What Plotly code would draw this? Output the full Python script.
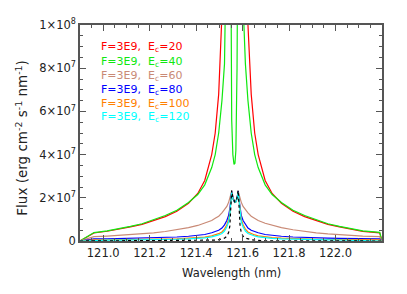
import plotly.graph_objects as go

# wavelength grid (nm)
wavelength_nm = [120.900, 120.960, 121.017, 121.067, 121.117, 121.167, 121.217, 121.267,
                 121.317, 121.367, 121.407, 121.437, 121.467, 121.482, 121.497, 121.511,
                 121.522, 121.532, 121.540, 121.545, 121.549, 121.553, 121.558, 121.563,
                 121.567,
                 121.571, 121.576, 121.581, 121.585, 121.589, 121.594, 121.602, 121.612,
                 121.623, 121.637, 121.652, 121.667, 121.697, 121.727, 121.767, 121.817,
                 121.867, 121.917, 121.967, 122.017, 122.067, 122.117, 122.190, 122.200]

# fluxes in units of 1e6 erg cm^-2 s^-1 nm^-1
flux_ec20 = [0, 3.7, 4.5, 5.4, 6.5, 7.7, 9.4, 11.3, 13.8, 17.5, 22, 28, 40, 50, 68, 100,
             140, 200, 260, 290, 300, 300, 300, 300,
             300,
             300, 300, 300, 300, 290, 260, 200, 140,
             100, 68, 50, 40, 28, 22, 17.5, 13.8, 11.3, 9.4, 7.7, 6.5, 5.4, 4.5, 3.8, 0]
flux_ec40 = [0, 3.9, 4.7, 5.6, 6.8, 8.0, 9.8, 11.8, 14.2, 17.8, 21.5, 26, 34, 40, 50, 65,
             82, 110, 170, 250, 140, 56, 40, 35.5,
             36,
             42, 80, 250, 250, 230, 160, 110, 82,
             65, 50, 40, 34, 26, 21.5, 17.8, 14.2, 11.8, 9.8, 8.0, 6.8, 5.6, 4.7, 4.0, 0]
flux_ec60 = [0, 2.0, 2.3, 2.6, 2.9, 3.3, 3.8, 4.4, 5.2, 6.2, 7.2, 8.2, 9.5, 10.5, 11.5, 13,
             14.5, 16, 18, 19.5, 21.5, 23.2, 20, 18.5,
             18.3,
             18.5, 20, 23.2, 21.5, 19.5, 18, 16, 14.5,
             13, 11.5, 10.5, 9.5, 8.2, 7.2, 6.2, 5.2, 4.4, 3.8, 3.3, 2.9, 2.6, 2.3, 2.0, 0]
flux_ec80 = [0, 0.95, 1.0, 1.1, 1.2, 1.3, 1.45, 1.6, 1.85, 2.2, 2.6, 3.0, 3.8, 4.3, 5.0, 6.0,
             7.5, 9.5, 12, 15, 19, 23, 20, 18.2,
             18,
             18.2, 20, 23, 19, 15, 12, 9.5, 7.5,
             6.0, 5.0, 4.3, 3.8, 3.0, 2.6, 2.2, 1.85, 1.6, 1.45, 1.3, 1.2, 1.1, 1.0, 0.95, 0]
flux_ec100 = [0, 0.5, 0.55, 0.6, 0.65, 0.7, 0.8, 0.9, 1.05, 1.3, 1.55, 1.8, 2.4, 2.8, 3.4, 4.2,
              5.5, 7.5, 10, 13, 17.5, 22.5, 19.5, 18,
              17.8,
              18, 19.5, 22.5, 17.5, 13, 10, 7.5, 5.5,
              4.2, 3.4, 2.8, 2.4, 1.8, 1.55, 1.3, 1.05, 0.9, 0.8, 0.7, 0.65, 0.6, 0.55, 0.5, 0]
flux_ec120 = [0, 0.35, 0.4, 0.42, 0.46, 0.5, 0.56, 0.65, 0.8, 1.0, 1.2, 1.45, 1.9, 2.3, 2.8, 3.5,
              4.6, 6.5, 9, 12, 17, 22.5, 19.5, 18,
              17.8,
              18, 19.5, 22.5, 17, 12, 9, 6.5, 4.6,
              3.5, 2.8, 2.3, 1.9, 1.45, 1.2, 1.0, 0.8, 0.65, 0.56, 0.5, 0.46, 0.42, 0.4, 0.35, 0]
flux_ref = [0, 0.02, 0.02, 0.02, 0.02, 0.03, 0.03, 0.04, 0.04, 0.05, 0.08, 0.12, 0.25, 0.4, 0.6, 0.9,
            1.3, 2.2, 4, 7, 13, 23.5, 20, 18.3,
            18,
            18.3, 20, 23.5, 13, 7, 4, 2.2, 1.3,
            0.9, 0.6, 0.4, 0.25, 0.12, 0.08, 0.05, 0.04, 0.04, 0.03, 0.03, 0.02, 0.02, 0.02, 0.02, 0]

series_labels = ["F=3E9,&nbsp;&nbsp;E<sub>c</sub>=20", "F=3E9,&nbsp;&nbsp;E<sub>c</sub>=40",
                 "F=3E9,&nbsp;&nbsp;E<sub>c</sub>=60", "F=3E9,&nbsp;&nbsp;E<sub>c</sub>=80",
                 "F=3E9,&nbsp;&nbsp;E<sub>c</sub>=100", "F=3E9,&nbsp;&nbsp;E<sub>c</sub>=120"]
series_colors = ["#ff0000", "#10e810", "#c98a76", "#0000ff", "#ff8000", "#00ffff"]

ytick_vals = [0, 2e7, 4e7, 6e7, 8e7, 1e8]
ytick_text = ["0", "2×10<sup>7</sup>", "4×10<sup>7</sup>", "6×10<sup>7</sup>",
              "8×10<sup>7</sup>", "1×10<sup>8</sup>"]
xtick_vals = [121.0, 121.2, 121.4, 121.6, 121.8, 122.0]
xtick_text = ["121.0", "121.2", "121.4", "121.6", "121.8", "122.0"]

FONT = "DejaVu Sans, Verdana, sans-serif"
INK = "#222222"
AXC = "#555555"

# page has an 8px body margin; size the figure so it fits the 407x294 window
OFF = 8
W, H = 407 - 2 * OFF, 294 - 2 * OFF
left_px, right_px, top_px, bottom_px = 79.5, 382.5, 25, 241  # page pixels of plot frame
ml = left_px - OFF
mr = W - (right_px - OFF)
mt = top_px - OFF
mb = H - (bottom_px - OFF)
pw, ph = W - ml - mr, H - mt - mb


def px_to_paper(x, y):
    return (x - left_px) / pw, 1 - (y - top_px) / ph


fig = go.Figure()
all_flux = [flux_ec20, flux_ec40, flux_ec60, flux_ec80, flux_ec100, flux_ec120]
for flux, color, label in zip(all_flux, series_colors, series_labels):
    fig.add_trace(go.Scatter(x=wavelength_nm, y=[v * 1e6 for v in flux], mode="lines",
                             line=dict(color=color, width=1.2), name=label, showlegend=False))
fig.add_trace(go.Scatter(x=wavelength_nm, y=[v * 1e6 for v in flux_ref], mode="lines",
                         line=dict(color="black", width=1.2, dash="dot"), showlegend=False))

for i, (label, color) in enumerate(zip(series_labels, series_colors)):
    ax, ay = px_to_paper(99, 47.5 + i * 14)
    fig.add_annotation(x=ax, y=ay, xref="paper", yref="paper", text=label,
                       showarrow=False, xanchor="left", yanchor="middle",
                       font=dict(color=color, size=11, family=FONT))

# axis titles
tx, ty = px_to_paper(231, 273)
fig.add_annotation(x=tx, y=ty, xref="paper", yref="paper", text="Wavelength (nm)",
                   showarrow=False, xanchor="center", yanchor="middle",
                   font=dict(color=INK, size=11.5, family=FONT))
tx, ty = px_to_paper(21, 138)
fig.add_annotation(x=tx, y=ty, xref="paper", yref="paper",
                   text="Flux (erg cm<sup>-2</sup> s<sup>-1</sup> nm<sup>-1</sup>)",
                   showarrow=False, xanchor="center", yanchor="middle", textangle=-90,
                   font=dict(color=INK, size=13.5, family=FONT))

axis_common = dict(showline=True, linecolor=AXC, linewidth=1.5, mirror="allticks",
                   ticks="inside", tickcolor=AXC, tickwidth=1, ticklen=6,
                   showgrid=False, zeroline=False,
                   tickfont=dict(size=11.5, color=INK, family=FONT))

fig.update_layout(
    width=W, height=H,
    margin=dict(l=ml, r=mr, t=mt, b=mb, autoexpand=False),
    paper_bgcolor="white", plot_bgcolor="white",
    xaxis=dict(range=[120.9, 122.2], tickvals=xtick_vals, ticktext=xtick_text,
               minor=dict(ticks="inside", dtick=0.05, tick0=121.0, ticklen=3,
                          tickcolor=AXC),
               **axis_common),
    yaxis=dict(range=[0, 1e8], tickvals=ytick_vals, ticktext=ytick_text,
               minor=dict(ticks="inside", dtick=5e6, tick0=0, ticklen=3,
                          tickcolor=AXC),
               **axis_common),
)

fig.write_html("out.html")
